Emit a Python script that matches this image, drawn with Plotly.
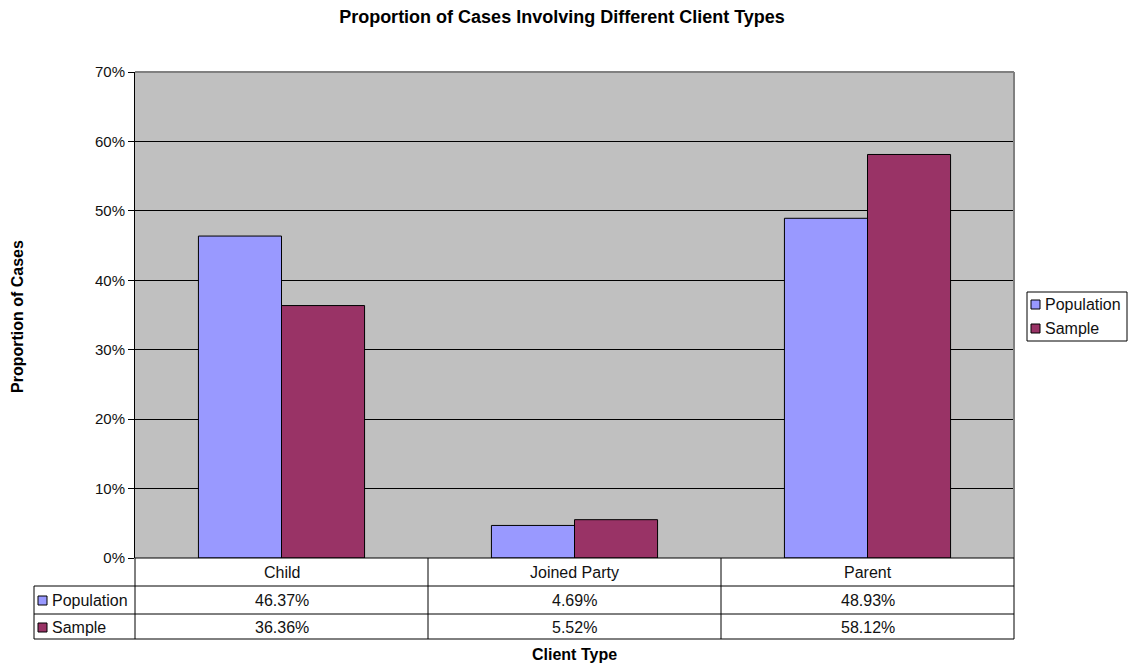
import plotly.graph_objects as go

# Client types and the share of cases for each group
categories = ["Child", "Joined Party", "Parent"]
population = [0.4637, 0.0469, 0.4893]
sample = [0.3636, 0.0552, 0.5812]
series_names = ["Population", "Sample"]
y_ticks = [0, 0.1, 0.2, 0.3, 0.4, 0.5, 0.6, 0.7]

colors = ["#9999FF", "#993366"]
FONT = "Liberation Sans, Arial, sans-serif"

W, H = 1132, 666
L, R, T, B = 135, 118, 72, 108
PW, PH = W - L - R, H - T - B


def px_x(p):
    return (p - L) / PW


def px_y(p):
    return (H - B - p) / PH


fig = go.Figure()
for name, vals, col in zip(series_names, [population, sample], colors):
    fig.add_trace(go.Bar(
        x=categories, y=vals, name=name,
        marker=dict(color=col, line=dict(color="black", width=1)),
        showlegend=False,
    ))

shapes = []
annotations = []

# Plot frame: grey top and right edges
shapes.append(dict(type="line", xref="paper", yref="paper", x0=0, x1=1, y0=1, y1=1,
                   line=dict(color="#808080", width=2)))
shapes.append(dict(type="line", xref="paper", yref="paper", x0=1, x1=1, y0=0, y1=1,
                   line=dict(color="#808080", width=2)))

# Data table grid beneath the plot
row_lines = [558, 586, 614, 639]
col_lines = [135, 428, 721, 1014]
tbl_left = 34
line_style = dict(color="black", width=1)
for i, yp in enumerate(row_lines):
    x0 = L if i == 0 else tbl_left
    shapes.append(dict(type="line", xref="paper", yref="paper",
                       x0=px_x(x0), x1=px_x(1014), y0=px_y(yp), y1=px_y(yp), line=line_style))
for xp in col_lines:
    shapes.append(dict(type="line", xref="paper", yref="paper",
                       x0=px_x(xp), x1=px_x(xp), y0=px_y(558), y1=px_y(639), line=line_style))
shapes.append(dict(type="line", xref="paper", yref="paper",
                   x0=px_x(tbl_left), x1=px_x(tbl_left), y0=px_y(586), y1=px_y(639), line=line_style))

text_font = dict(family=FONT, size=16, color="#111111")

# Category header row
for c in categories:
    annotations.append(dict(x=c, y=px_y(572), xref="x", yref="paper", text=c,
                            showarrow=False, font=text_font, xanchor="center", yanchor="middle"))

# Value rows with key squares
row_centers = [600, 627]
for name, vals, col, yc in zip(series_names, [population, sample], colors, row_centers):
    shapes.append(dict(type="rect", xref="paper", yref="paper",
                       x0=px_x(38), x1=px_x(47), y0=px_y(yc + 5), y1=px_y(yc - 4),
                       fillcolor=col, line=dict(color="black", width=1)))
    annotations.append(dict(x=px_x(50), y=px_y(yc), xref="paper", yref="paper", text=name,
                            showarrow=False, font=text_font, xanchor="left", yanchor="middle"))
    for c, v in zip(categories, vals):
        annotations.append(dict(x=c, y=px_y(yc), xref="x", yref="paper", text=f"{v:.2%}",
                                showarrow=False, font=text_font, xanchor="center", yanchor="middle"))

# Legend box on the right
lg_x0, lg_x1, lg_y0, lg_y1 = 1027, 1127, 292, 341
shapes.append(dict(type="rect", xref="paper", yref="paper",
                   x0=px_x(lg_x0), x1=px_x(lg_x1), y0=px_y(lg_y1), y1=px_y(lg_y0),
                   fillcolor="white", line=dict(color="black", width=1)))
for name, col, yc in zip(series_names, colors, [304, 328]):
    shapes.append(dict(type="rect", xref="paper", yref="paper",
                       x0=px_x(1031), x1=px_x(1040), y0=px_y(yc + 5), y1=px_y(yc - 4),
                       fillcolor=col, line=dict(color="black", width=1)))
    annotations.append(dict(x=px_x(1043), y=px_y(yc), xref="paper", yref="paper", text=name,
                            showarrow=False, font=text_font, xanchor="left", yanchor="middle"))

# Axis titles
annotations.append(dict(x=px_x(17), y=px_y(317), xref="paper", yref="paper",
                        text="<b>Proportion of Cases</b>", textangle=-90, showarrow=False,
                        font=dict(family=FONT, size=16, color="black"),
                        xanchor="center", yanchor="middle"))
annotations.append(dict(x=(px_x(135) + px_x(1014)) / 2, y=px_y(654), xref="paper", yref="paper",
                        text="<b>Client Type</b>", showarrow=False,
                        font=dict(family=FONT, size=16, color="black"),
                        xanchor="center", yanchor="middle"))

fig.update_layout(
    width=W, height=H,
    margin=dict(l=L, r=R, t=T, b=B, pad=0),
    paper_bgcolor="white",
    plot_bgcolor="#C0C0C0",
    barmode="group",
    bargap=0.433,
    bargroupgap=0,
    title=dict(text="<b>Proportion of Cases Involving Different Client Types</b>",
               x=562 / W, xanchor="center",
               y=1 - 17 / H, yanchor="middle",
               font=dict(family=FONT, size=18, color="black")),
    font=dict(family=FONT, size=16, color="#111111"),
    xaxis=dict(showticklabels=False, showgrid=False, zeroline=False, ticks="",
               showline=False, fixedrange=True),
    yaxis=dict(range=[0, 0.7], tickvals=y_ticks, tickformat=".0%",
               showgrid=True, gridcolor="black", gridwidth=1,
               zeroline=False, showline=True, linecolor="black", linewidth=1,
               ticks="outside", ticklen=6, tickcolor="black",
               tickfont=dict(family=FONT, size=15, color="#111111"), fixedrange=True),
    shapes=shapes,
    annotations=annotations,
)

fig.write_html("out.html")
